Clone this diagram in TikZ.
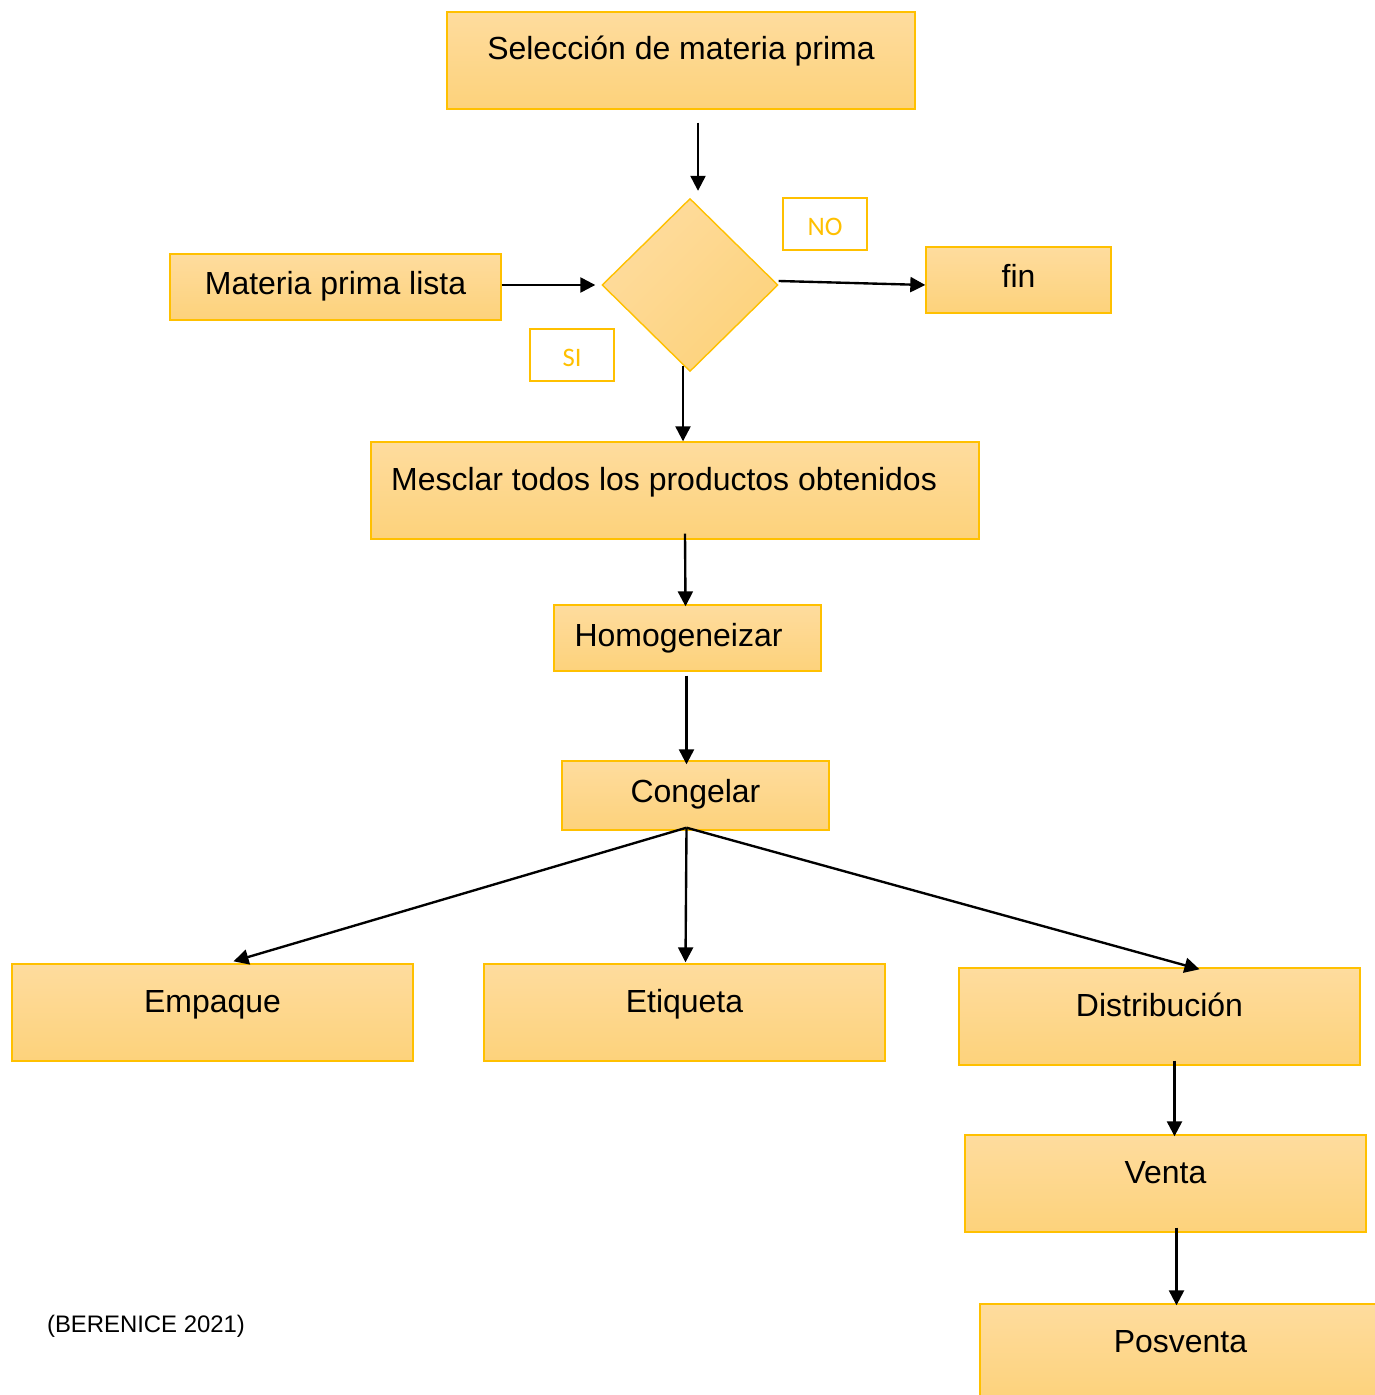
\documentclass[tikz,border=0pt]{standalone}
\usepackage{fontspec}
\setmainfont{Liberation Sans}
\newfontfamily\calibrifont{Carlito}
\usetikzlibrary{shapes.geometric,arrows.meta,calc}

\definecolor{boxline}{HTML}{FFC000}
\definecolor{boxtop}{HTML}{FEDC9E}
\definecolor{boxbottom}{HTML}{FDD27B}

\begin{document}
\begin{tikzpicture}[x=0.02cm, y=-0.02cm,
  proc/.style={draw=boxline, line width=0.8pt, top color=boxtop, bottom color=boxbottom,
    inner sep=0pt, font=\fontsize{18.2}{22}\selectfont},
  tallbox/.style={proc, text height=0.96cm, text depth=0.98cm},
  shortbox/.style={proc, text height=0.82cm, text depth=0.5cm},
  answer/.style={draw=boxline, line width=0.8pt, fill=white, text=boxline, inner sep=0pt,
    text height=0.75cm, text depth=0.29cm,
    minimum width=1.68cm, font=\calibrifont\fontsize{15.2}{18}\selectfont},
  flow/.style={-{Triangle[length=0.3cm,width=0.3cm]}, line width=1.35pt}
]
\useasboundingbox (0,0) rectangle (1374,1395);

% Boxes of the process
\node[tallbox, minimum width=9.36cm] (sel) at (681,60.5) {Selección de materia prima};
\node[shortbox, minimum width=6.62cm] (lista) at (335.5,287) {Materia prima lista};
\node[shortbox, minimum width=3.7cm] (fin) at (1018.5,280) {fin};
\node[tallbox, minimum width=12.16cm] (mez) at (675,490.5) {Mesclar todos los productos obtenidos\kern0.44cm};
\node[shortbox, minimum width=5.34cm] (hom) at (687.5,638) {Homogeneizar\kern0.36cm};
\node[shortbox, minimum width=5.34cm, text depth=0.56cm] (con) at (695.5,795.5) {Congelar};
\node[tallbox, minimum width=8.02cm] (emp) at (212.5,1012.5) {Empaque};
\node[tallbox, minimum width=8.02cm] (eti) at (684.5,1012.5) {Etiqueta};
\node[tallbox, minimum width=8.02cm] (dis) at (1159.5,1016.5) {Distribución};
\node[tallbox, minimum width=8.02cm] (ven) at (1165.5,1183.5) {Venta};
\node[tallbox, minimum width=8.02cm] (pos) at (1180.5,1352.5) {Posventa};

% Decision
\node[diamond, draw=boxline, line width=0.8pt, top color=boxtop, bottom color=boxbottom,
  shading angle=45, inner sep=0pt, minimum width=3.52cm, minimum height=3.46cm] (dec) at (690,285) {};
\node[answer] (no) at (825,224) {NO};
\node[answer] (si) at (572,355) {SI};

% Arrows
\draw[flow] ($(sel.south)+(17,13)$) -- ($(dec.north)+(8,-7)$);
\draw[flow] ($(lista.east)+(0,-2)$) -- ($(dec.west)+(-6,0)$);
\draw[flow] ($(dec.east)+(0,-4)$) -- ($(fin.west)+(0,5)$);
\draw[flow] ($(dec.south)+(-7,-6)$) -- ($(mez.north)+(8,0)$);
\draw[flow] ($(mez.south)+(10,-6)$) -- ($(hom.north)+(-2,2)$);
\draw[flow] ($(hom.south)+(-1,4)$) -- ($(con.north)+(-9,4)$);
\coordinate (fork) at ($(con.south)+(-9,-3)$);
\draw[flow] (fork) -- ($(emp.north)+(21,-2)$);
\draw[flow] (fork) -- ($(eti.north)+(1,-1)$);
\draw[flow] (fork) -- ($(dis.north)+(40,2)$);
\draw[flow] ($(dis.south)+(15,-5)$) -- ($(ven.north)+(9,2)$);
\draw[flow] ($(ven.south)+(11,-5)$) -- ($(pos.north)+(-4,2)$);

% Source
\node[font=\fontsize{13.6}{16}\selectfont] (cite) at (146,1326) {(BERENICE 2021)};
\end{tikzpicture}
\end{document}
